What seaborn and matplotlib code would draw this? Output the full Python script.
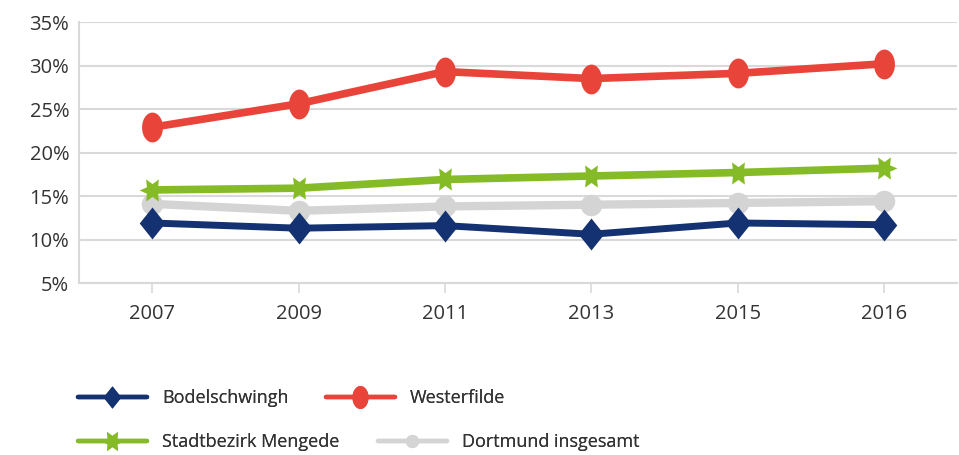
import matplotlib
matplotlib.use("Agg")
import matplotlib.pyplot as plt
import seaborn as sns
import pandas as pd
import numpy as np
from matplotlib.lines import Line2D
from matplotlib.path import Path

years = ["2007", "2009", "2011", "2013", "2015", "2016"]
bodelschwingh = [11.9, 11.3, 11.6, 10.6, 11.9, 11.7]
westerfilde = [22.9, 25.6, 29.3, 28.5, 29.1, 30.2]
mengede = [15.7, 15.9, 16.9, 17.3, 17.7, 18.2]
dortmund = [14.1, 13.3, 13.8, 14.0, 14.2, 14.4]
yticks = [5, 10, 15, 20, 25, 30, 35]

# custom marker shapes
ell_t = np.linspace(0, 2 * np.pi, 60)
ellipse = Path(np.column_stack([0.7 * np.cos(ell_t), np.sin(ell_t)]), closed=True)
diamond = Path([(0, 1), (0.8, 0), (0, -1), (-0.8, 0), (0, 1)], closed=True)
star_pts = []
for k in range(12):
    ang = np.deg2rad(k * 30)
    r = 1.0 if k % 2 == 0 else 0.5
    star_pts.append((r * np.cos(ang), r * np.sin(ang)))
star_pts.append(star_pts[0])
star = Path(star_pts, closed=True)

# name, values, colour, marker, markersize, linewidth, legend markersize
series = [
    ("Dortmund insgesamt", dortmund, "#D3D4D3", "o", 15.5, 6, 9.5),
    ("Bodelschwingh", bodelschwingh, "#143272", diamond, 23, 5, 16),
    ("Stadtbezirk Mengede", mengede, "#84BB26", star, 18.5, 5.5, 16),
    ("Westerfilde", westerfilde, "#E8443A", ellipse, 21.5, 5.5, 16.5),
]

sns.set_style("white")
plt.rcParams["font.family"] = ["Open Sans", "DejaVu Sans"]

fig = plt.figure(figsize=(9.59, 4.55), dpi=100)
ax = fig.add_axes([0.0824, 0.378, 0.9156, 0.5736])

handles = {}
for name, vals, col, mk, ms, lw, lms in series:
    df = pd.DataFrame({"x": range(len(years)), "y": vals})
    sns.lineplot(data=df, x="x", y="y", ax=ax, color=col, linewidth=lw,
                 marker=mk, markersize=ms, markeredgewidth=0, markeredgecolor=col)
    handles[name] = Line2D([], [], color=col, linewidth=3.2, marker=mk,
                           markersize=lms, markeredgewidth=0)

ax.set_xlim(-0.5, len(years) - 0.5)
ax.set_ylim(5, 35)
ax.set_yticks(yticks)
ax.set_yticklabels([f"{v}%" for v in yticks])
ax.set_xticks(range(len(years)))
ax.set_xticklabels(years)
ax.set_xlabel("")
ax.set_ylabel("")
ax.grid(axis="y", color="#D9D9D9", linewidth=1.5)
ax.set_axisbelow(True)
for s in ["top", "right"]:
    ax.spines[s].set_visible(False)
for s in ["left", "bottom"]:
    ax.spines[s].set_color("#D9D9D9")
    ax.spines[s].set_linewidth(1.5)
ax.tick_params(axis="x", which="both", length=7, width=1.2, color="#D9D9D9",
               direction="out", labelsize=14.5, labelcolor="#333333", pad=8, bottom=True)
ax.tick_params(axis="y", length=0, labelsize=14.5, labelcolor="#333333", pad=7)

# legend entries placed individually: (name, x pixel of handle start, y pixel)
legend_pos = [
    ("Bodelschwingh", 78, 398),
    ("Westerfilde", 326, 398),
    ("Stadtbezirk Mengede", 78, 442),
    ("Dortmund insgesamt", 378, 442),
]
W, H = 959, 455
for name, px, py in legend_pos:
    leg = fig.legend([handles[name]], [name], loc="center left",
                     bbox_to_anchor=(px / W, 1 - py / H), frameon=False,
                     fontsize=13, handlelength=3.8, handletextpad=0.85,
                     borderpad=0, borderaxespad=0, labelcolor="#333333")
    fig.add_artist(leg)

fig.savefig("out.png", dpi=100)
